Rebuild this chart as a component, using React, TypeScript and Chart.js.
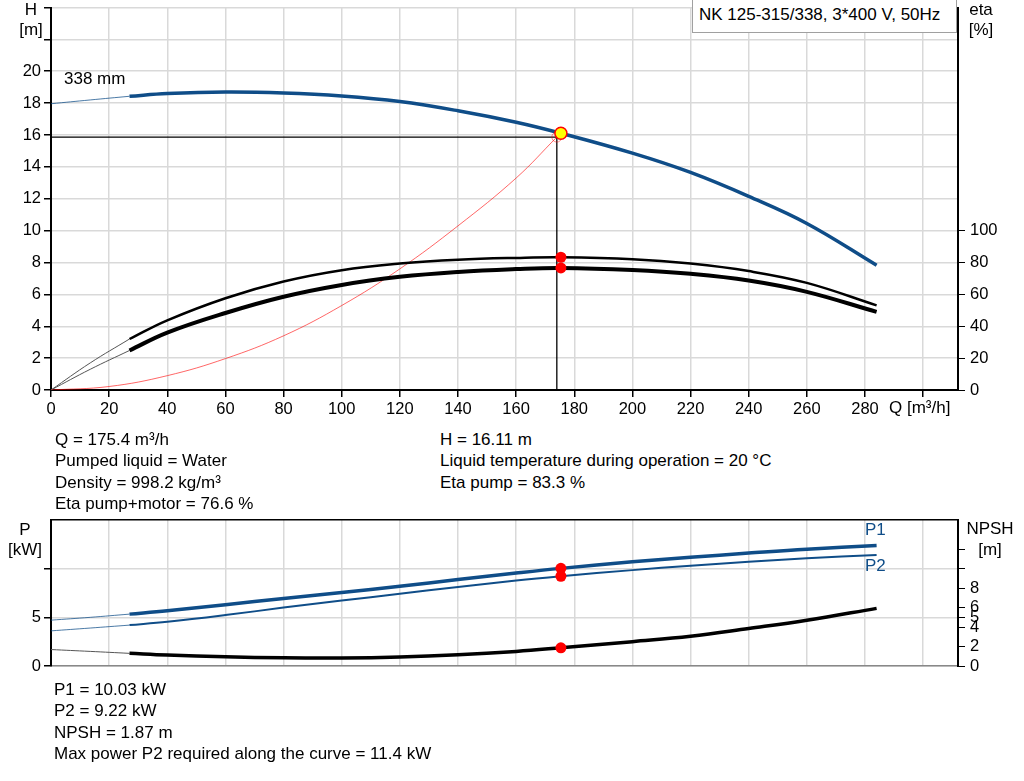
import React, { useEffect, useRef } from 'react';
import { Chart, registerables } from 'chart.js';

Chart.register(...registerables);

const FONT = '"Liberation Sans", Arial, sans-serif';
const BLUE = '#0f4d88';
const BLUE_THIN = 'rgba(15, 77, 136, 0.75)';
const GRID = '#d9d9d9';

// axis ticks
const qTicks = [0, 20, 40, 60, 80, 100, 120, 140, 160, 180, 200, 220, 240, 260, 280, 300];
const hTicks = [0, 2, 4, 6, 8, 10, 12, 14, 16, 18, 20, 22, 24];
const etaTicks = [0, 20, 40, 60, 80, 100];
const pTicks = [0, 5, 10];
const npshTicks = [0, 2, 4, 5, 6, 8, 10, 12];

// Q values of the curves (start = thin part outside the allowed range)
const qStart = [0, 13.5, 27];
const qCurve = [27, 40, 60, 80, 100, 120, 140, 160, 175.4, 200, 220, 240, 260, 284];

// head curve, 338 mm impeller [m]
const hStart = [17.96, 18.2, 18.43];
const hCurve = [18.43, 18.6, 18.7, 18.64, 18.45, 18.1, 17.52, 16.8, 16.11, 14.86, 13.65, 12.15, 10.45, 7.83];

// efficiency [%]
const etaPumpStart = [0, 17, 32];
const etaPumpCurve = [32, 43.7, 57.6, 68.1, 75.2, 79.3, 81.7, 82.9, 83.3, 82.1, 79.3, 74.6, 67.2, 53.1];
const etaTotalStart = [0, 13, 24.8];
const etaTotalCurve = [24.8, 36, 48.3, 58.5, 65.9, 71.0, 74.1, 75.9, 76.6, 75.3, 72.9, 68.7, 61.6, 49];

// system curve
const qSystem = [0, 20, 40, 60, 80, 100, 120, 140, 160, 174];
const hSystem = [0, 0.22, 0.9, 1.97, 3.4, 5.3, 7.6, 10.3, 13.3, 15.87];

// duty point
const qDuty = 175.4;
const hDuty = 16.11;
const etaPumpDuty = 83.3;
const etaTotalDuty = 76.6;
const qDrop = 174;
const hDrop = 15.87;

// power [kW] and NPSH [m]
const p1Start = [4.71, 5.0, 5.33];
const p1Curve = [5.33, 5.67, 6.3, 6.93, 7.55, 8.2, 8.88, 9.55, 10.03, 10.7, 11.17, 11.6, 12.0, 12.37];
const p2Start = [3.61, 3.9, 4.2];
const p2Curve = [4.2, 4.54, 5.23, 6.0, 6.72, 7.42, 8.12, 8.78, 9.22, 9.85, 10.3, 10.7, 11.07, 11.41];
const npshStart = [1.69, 1.5, 1.3];
const npshCurve = [1.3, 1.12, 0.95, 0.84, 0.82, 0.92, 1.15, 1.5, 1.87, 2.5, 3.05, 3.85, 4.7, 5.92];
const p1Duty = 10.03;
const p2Duty = 9.22;
const npshDuty = 1.87;

const pts = (xs: number[], ys: number[]) => xs.map((x, i) => ({ x, y: ys[i] }));

const fixedTicks = (values: number[]) => (scale: any) => {
  scale.ticks = values.map((v) => ({ value: v }));
};
const fixWidth = (w: number) => (scale: any) => {
  scale.width = w;
  scale.paddingTop = 0;
  scale.paddingBottom = 0;
};
const fixHeight = (h: number) => (scale: any) => {
  scale.height = h;
  scale.paddingLeft = 0;
  scale.paddingRight = 0;
};

const curve = (data: any[], color: string, width: number, yAxisID: string, order = 5) => ({
  data,
  borderColor: color,
  backgroundColor: color,
  borderWidth: width,
  pointRadius: 0,
  fill: false,
  tension: 0.4,
  yAxisID,
  order,
});

const dots = (data: any[], yAxisID: string) => ({
  data,
  showLine: false,
  pointRadius: 5.5,
  pointBackgroundColor: '#ff0000',
  pointBorderColor: '#ff0000',
  pointBorderWidth: 0,
  yAxisID,
  order: 0,
});

const tickFont = { family: FONT, size: 16.5 };

const Label = ({ x, y, center, color, children }: any) => (
  <div
    style={{
      position: 'absolute',
      left: x,
      top: y - 10,
      lineHeight: '20px',
      whiteSpace: 'nowrap',
      color: color || '#000',
      transform: center ? 'translateX(-50%)' : undefined,
    }}
  >
    {children}
  </div>
);

export default function App() {
  const topRef = useRef<HTMLCanvasElement>(null);
  const bottomRef = useRef<HTMLCanvasElement>(null);

  useEffect(() => {
    if (!topRef.current || !bottomRef.current) return;

    const xScale = {
      type: 'linear' as const,
      position: 'bottom' as const,
      min: 0,
      max: 312,
      afterBuildTicks: fixedTicks(qTicks),
      ticks: {
        autoSkip: false,
        maxRotation: 0,
        padding: 3,
        color: '#000',
        font: tickFont,
        callback: (v: any) => (v <= 280 ? String(v) : ''),
      },
      grid: { color: GRID, lineWidth: 1.5, tickColor: '#000', tickLength: 7 },
      border: { color: '#000', width: 2 },
      afterFit: fixHeight(30),
    };

    const topChart = new Chart(topRef.current, {
      type: 'line',
      data: {
        datasets: [
          {
            data: [{ x: qDuty, y: hDuty }],
            showLine: false,
            pointRadius: 6,
            pointBackgroundColor: '#ffff00',
            pointBorderColor: '#ff0000',
            pointBorderWidth: 1.5,
            yAxisID: 'y',
            order: -1,
          },
          dots(
            [
              { x: qDuty, y: etaPumpDuty },
              { x: qDuty, y: etaTotalDuty },
            ],
            'yEta'
          ),
          {
            data: [{ x: qDrop, y: hDrop }],
            showLine: false,
            pointRadius: 5,
            pointBackgroundColor: 'rgba(0,0,0,0)',
            pointBorderColor: 'rgba(255,0,0,0.45)',
            pointBorderWidth: 1,
            yAxisID: 'y',
            order: 1,
          },
          curve(pts(qStart, hStart), BLUE_THIN, 1, 'y'),
          curve(pts(qCurve, hCurve), BLUE, 3.5, 'y', 3),
          curve(pts(qStart, etaPumpStart), '#555', 1, 'yEta'),
          curve(pts(qCurve, etaPumpCurve), '#000', 2.5, 'yEta', 3),
          curve(pts(qStart, etaTotalStart), '#555', 1, 'yEta'),
          curve(pts(qCurve, etaTotalCurve), '#000', 4, 'yEta', 3),
          curve(pts(qSystem, hSystem), 'rgba(255,0,0,0.6)', 1, 'y', 4),
          {
            data: [
              { x: 0, y: hDrop },
              { x: qDrop, y: hDrop },
              { x: qDrop, y: 0 },
            ],
            borderColor: '#000',
            borderWidth: 1.3,
            pointRadius: 0,
            tension: 0,
            fill: false,
            yAxisID: 'y',
            order: 2,
          },
        ] as any,
      },
      options: {
        responsive: false,
        devicePixelRatio: 1,
        animation: false,
        events: [],
        layout: { padding: 0 },
        plugins: { legend: { display: false }, tooltip: { enabled: false } },
        scales: {
          x: xScale,
          y: {
            type: 'linear',
            position: 'left',
            min: 0,
            max: 24,
            afterBuildTicks: fixedTicks(hTicks),
            afterFit: fixWidth(51),
            ticks: {
              autoSkip: false,
              padding: 3,
              color: '#000',
              font: tickFont,
              callback: (v: any) => (v <= 20 ? String(v) : ''),
            },
            grid: { color: GRID, lineWidth: 1.5, tickColor: '#000', tickLength: 7 },
            border: { color: '#000', width: 2 },
          },
          yEta: {
            type: 'linear',
            position: 'right',
            min: 0,
            max: 240,
            afterBuildTicks: fixedTicks(etaTicks),
            afterFit: fixWidth(66),
            ticks: { autoSkip: false, padding: 5, color: '#000', font: tickFont },
            grid: { drawOnChartArea: false, tickColor: '#000', tickLength: 7 },
            border: { color: '#000', width: 2 },
          },
        } as any,
      },
    });

    const bottomChart = new Chart(bottomRef.current, {
      type: 'line',
      data: {
        datasets: [
          dots(
            [
              { x: qDuty, y: p1Duty },
              { x: qDuty, y: p2Duty },
              { x: qDuty, y: npshDuty },
            ],
            'y'
          ),
          curve(pts(qStart, p1Start), BLUE_THIN, 1, 'y'),
          curve(pts(qCurve, p1Curve), BLUE, 3.5, 'y', 3),
          curve(pts(qStart, p2Start), BLUE_THIN, 1, 'y'),
          curve(pts(qCurve, p2Curve), BLUE, 2, 'y', 3),
          curve(pts(qStart, npshStart), '#555', 1, 'yN'),
          curve(pts(qCurve, npshCurve), '#000', 3.5, 'yN', 3),
        ] as any,
      },
      options: {
        responsive: false,
        devicePixelRatio: 1,
        animation: false,
        events: [],
        layout: { padding: { top: 20, left: 0, right: 0, bottom: 0 } },
        plugins: { legend: { display: false }, tooltip: { enabled: false } },
        scales: {
          x: {
            ...xScale,
            ticks: { display: false },
            grid: { color: GRID, lineWidth: 1.5, drawTicks: false },
            border: { color: '#888', width: 1.5 },
            afterFit: fixHeight(14),
          },
          xTop: {
            type: 'linear',
            position: 'top',
            min: 0,
            max: 312,
            ticks: { display: false },
            grid: { drawOnChartArea: false, drawTicks: false },
            border: { color: '#000', width: 1.5 },
            afterFit: fixHeight(0),
          },
          y: {
            type: 'linear',
            position: 'left',
            min: 0,
            max: 15,
            afterBuildTicks: fixedTicks(pTicks),
            afterFit: fixWidth(51),
            ticks: {
              autoSkip: false,
              padding: 3,
              color: '#000',
              font: tickFont,
              callback: (v: any) => (v <= 5 ? String(v) : ''),
            },
            grid: { color: GRID, lineWidth: 1.5, tickColor: '#000', tickLength: 7 },
            border: { color: '#000', width: 2 },
          },
          yN: {
            type: 'linear',
            position: 'right',
            min: 0,
            max: 15,
            afterBuildTicks: fixedTicks(npshTicks),
            afterFit: fixWidth(66),
            ticks: {
              autoSkip: false,
              padding: 5,
              color: '#000',
              font: tickFont,
              callback: (v: any) => (v <= 8 ? String(v) : ''),
            },
            grid: { drawOnChartArea: false, tickColor: '#000', tickLength: 7 },
            border: { color: '#000', width: 2 },
          },
        } as any,
      },
    });

    return () => {
      topChart.destroy();
      bottomChart.destroy();
    };
  }, []);

  return (
    <div
      style={{
        position: 'absolute',
        left: 0,
        top: 0,
        width: 1024,
        height: 781,
        overflow: 'hidden',
        background: '#fff',
        fontFamily: FONT,
        fontSize: 17,
        color: '#000',
      }}
    >
      <canvas ref={topRef} width={1024} height={420} style={{ position: 'absolute', left: 0, top: 0 }} />
      <canvas ref={bottomRef} width={1024} height={180} style={{ position: 'absolute', left: 0, top: 500 }} />

      <div
        style={{
          position: 'absolute',
          left: 692,
          top: -1,
          width: 265,
          height: 34,
          border: '1px solid #a0a0a0',
          background: '#fff',
          lineHeight: '30px',
          paddingLeft: 6,
          boxSizing: 'border-box',
          whiteSpace: 'nowrap',
        }}
      >
        NK 125-315/338, 3*400 V, 50Hz
      </div>

      <Label x={31} y={10} center>H</Label>
      <Label x={31} y={30} center>[m]</Label>
      <Label x={981} y={10} center>eta</Label>
      <Label x={981} y={30} center>[%]</Label>
      <Label x={64} y={79}>338 mm</Label>
      <Label x={889} y={408}>Q [m³/h]</Label>

      <div style={{ position: 'absolute', left: 55, top: 429, lineHeight: '21.3px', whiteSpace: 'nowrap' }}>
        <div>Q = 175.4 m³/h</div>
        <div>Pumped liquid = Water</div>
        <div>Density = 998.2 kg/m³</div>
        <div>Eta pump+motor = 76.6 %</div>
      </div>
      <div style={{ position: 'absolute', left: 440, top: 429, lineHeight: '21.3px', whiteSpace: 'nowrap' }}>
        <div>H = 16.11 m</div>
        <div>Liquid temperature during operation = 20 °C</div>
        <div>Eta pump = 83.3 %</div>
      </div>

      <Label x={25} y={530} center>P</Label>
      <Label x={25} y={550} center>[kW]</Label>
      <Label x={990} y={529} center>NPSH</Label>
      <Label x={990} y={550} center>[m]</Label>
      <Label x={865} y={530} color={BLUE}>P1</Label>
      <Label x={865} y={566} color={BLUE}>P2</Label>

      <div style={{ position: 'absolute', left: 54, top: 679, lineHeight: '21.3px', whiteSpace: 'nowrap' }}>
        <div>P1 = 10.03 kW</div>
        <div>P2 = 9.22 kW</div>
        <div>NPSH = 1.87 m</div>
        <div>Max power P2 required along the curve = 11.4 kW</div>
      </div>
    </div>
  );
}
